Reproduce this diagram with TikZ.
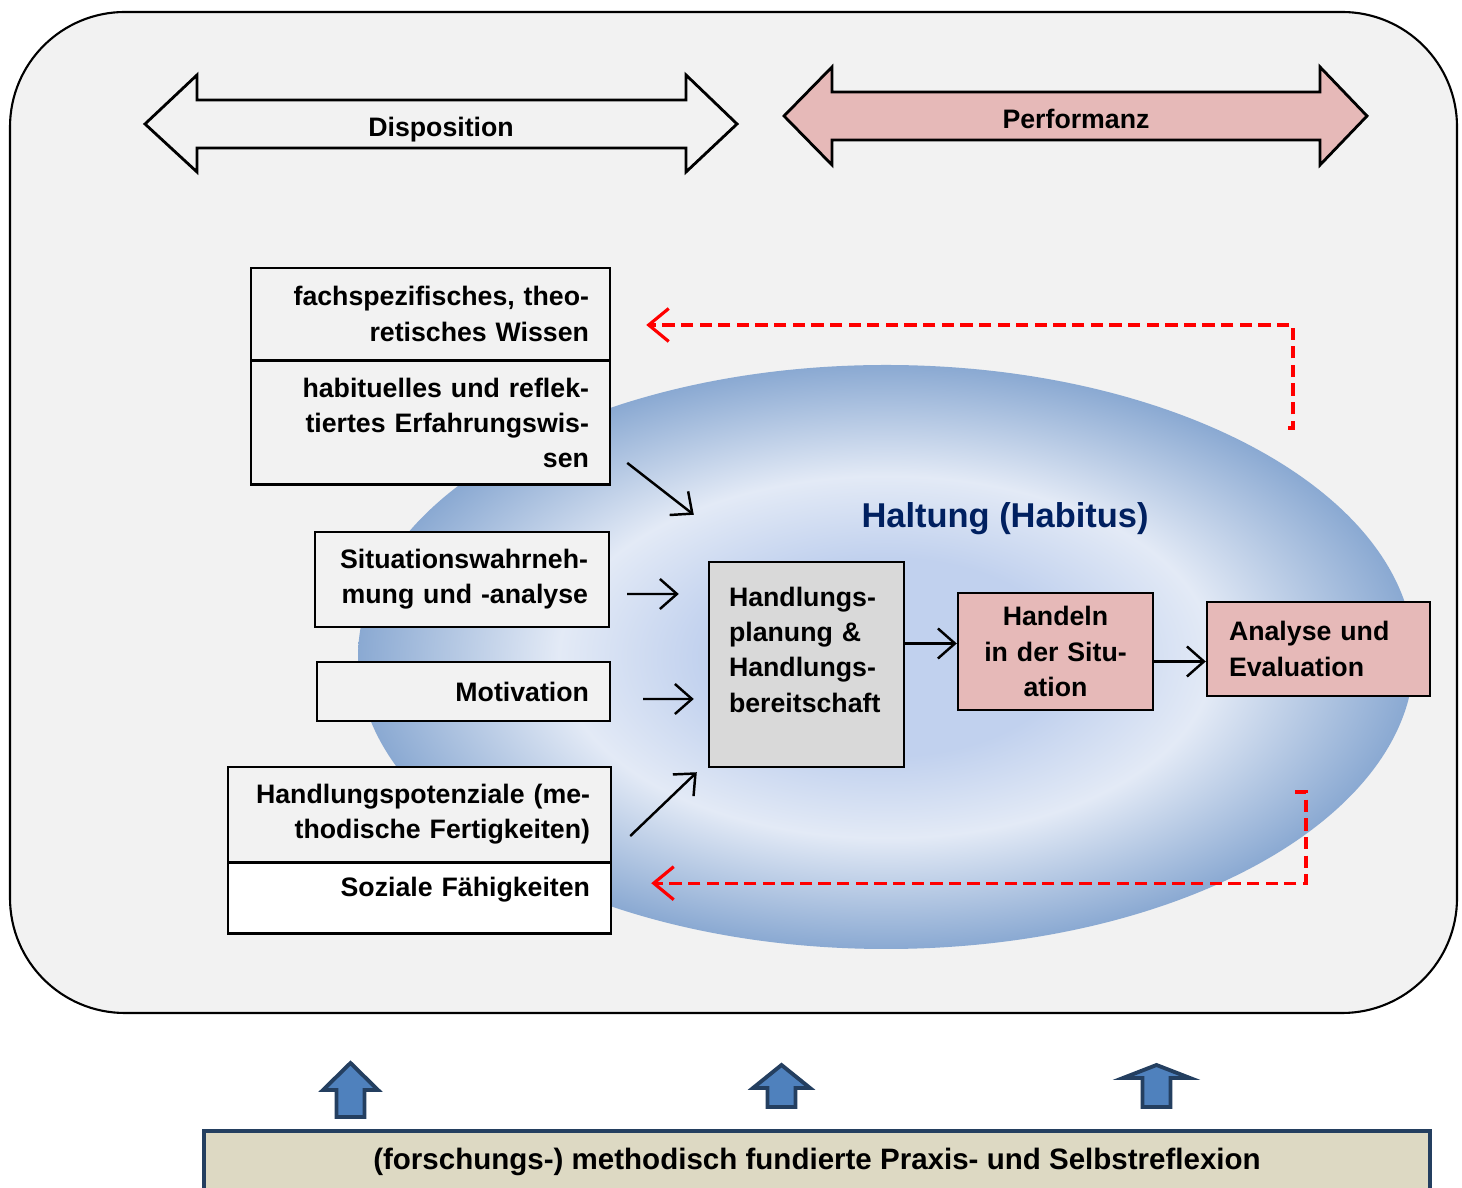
\documentclass[tikz,border=0pt]{standalone}
\usepackage{fontspec}
\setmainfont{Liberation Sans}
\usetikzlibrary{positioning}
\usetikzlibrary{arrows.meta}
\definecolor{framebg}{HTML}{F2F2F2}
\definecolor{pinkc}{HTML}{E6B9B8}
\definecolor{planc}{HTML}{D9D9D9}
\definecolor{bannerc}{HTML}{DDD9C3}
\definecolor{navyc}{HTML}{243F60}
\definecolor{upc}{HTML}{4F81BD}
\definecolor{haltungc}{HTML}{002060}
\definecolor{habcore}{HTML}{C1D1EE}
\definecolor{hablight}{HTML}{E3EAF6}
\definecolor{habedge}{HTML}{8AA9D2}
\newcommand{\boxfont}{\fontsize{7.6}{10}\selectfont\bfseries}
\pgfdeclareradialshading{habitusshade}{\pgfpoint{0bp}{0bp}}{color(0bp)=(habcore); color(8.5bp)=(habcore); color(15.5bp)=(hablight); color(25bp)=(habedge); color(50bp)=(habedge)}
\tikzset{
  dispbox/.style={draw, line width=0.7pt, fill=framebg, align=right, inner xsep=0.21cm, font=\boxfont},
  perfbox/.style={draw, line width=0.7pt, fill=pinkc, inner xsep=0.2cm, font=\boxfont},
  flow/.style={line width=0.7pt, -{Straight Barb[length=1.7mm,width=3mm]}},
  feedback/.style={red, line width=0.9pt, dash pattern=on 3.5pt off 1.8pt, -{Straight Barb[length=2mm,width=3.3mm]}},
  dblarrow/.style={draw, line width=0.8pt},
  uparrow/.style={draw=navyc, fill=upc, line width=1.1pt, line join=miter}
}

\begin{document}
\begin{tikzpicture}
\useasboundingbox (0,0) rectangle (14.62,11.87);

% outer frame
\draw[line width=0.6pt, fill=framebg, rounded corners=1.15cm] (0.10,1.74) rectangle (14.57,11.75);

% disposition / performanz
\draw[dblarrow, fill=framebg] (1.45,10.63) -- (1.97,11.12) -- (1.97,10.87) -- (6.86,10.87) -- (6.86,11.12) -- (7.37,10.63)
  -- (6.86,10.15) -- (6.86,10.39) -- (1.97,10.39) -- (1.97,10.15) -- cycle;
\node[font=\boxfont] (dispo) at (4.41,10.57) {Disposition};
\draw[dblarrow, fill=pinkc] (7.84,10.71) -- (8.32,11.20) -- (8.32,10.95) -- (13.20,10.95) -- (13.20,11.20) -- (13.67,10.71)
  -- (13.20,10.22) -- (13.20,10.47) -- (8.32,10.47) -- (8.32,10.22) -- cycle;
\node[font=\boxfont] (perf) at (10.76,10.68) {Performanz};

% habitus
\shade[shading=habitusshade] (8.86,5.30) ellipse (5.28 and 2.92);
\node[font=\fontsize{9.8}{12}\selectfont\bfseries, text=haltungc] (haltung) at (10.05,6.68) {Haltung (Habitus)};

% disposition boxes
\node[dispbox, minimum width=3.59cm, text width=3.17cm, minimum height=0.92cm] (fach) at (4.305,8.73) {fachspezifisches, theo-\\retisches Wissen};
\node[dispbox, minimum width=3.59cm, text width=3.17cm, minimum height=1.24cm, below=-0.5pt of fach] (erfahrung) {habituelles und reflek-\\tiertes Erfahrungswis-\\sen};
\node[dispbox, minimum width=2.94cm, text width=2.52cm, minimum height=0.95cm] (situation) at (4.62,6.075) {Situationswahrneh-\\mung und -analyse};
\node[dispbox, minimum width=2.93cm, text width=2.51cm, minimum height=0.59cm] (motivation) at (4.635,4.955) {Motivation};
\node[dispbox, minimum width=3.83cm, text width=3.41cm, minimum height=0.95cm] (potenzial) at (4.195,3.725) {Handlungspotenziale (me-\\thodische Fertigkeiten)};
\node[dispbox, fill=white, minimum width=3.83cm, text width=3.41cm, minimum height=0.71cm, text depth=0.23cm, below=-0.5pt of potenzial] (sozial) {Soziale F\"ahigkeiten};

% performance chain
\node[draw, line width=0.7pt, fill=planc, align=left, inner xsep=0.2cm, font=\boxfont, minimum width=1.95cm, text width=1.55cm, minimum height=2.05cm, text depth=1.35cm] (plan) at (8.065,5.225)
  {Handlungs-\\planung \&\\Handlungs-\\bereitschaft};
\node[perfbox, align=center, minimum width=1.95cm, text width=1.55cm, minimum height=1.17cm] (handeln) at (10.555,5.355) {Handeln\\in der Situ-\\ation};
\node[perfbox, align=left, inner xsep=0.22cm, minimum width=2.23cm, text width=1.79cm, minimum height=0.94cm] (analyse) at (13.185,5.38) {Analyse und\\Evaluation};

\draw[flow] ([shift={(0.16,0.23)}]erfahrung.south east) -- ([shift={(-0.14,0.46)}]plan.north west);
\draw[flow] ([shift={(0.17,-0.145)}]situation.east) -- ([shift={(-0.29,0.705)}]plan.west);
\draw[flow] ([shift={(0.32,-0.075)}]motivation.east) -- ([shift={(-0.14,-0.345)}]plan.west);
\draw[flow] ([shift={(0.18,-0.215)}]potenzial.east) -- ([shift={(-0.11,-0.04)}]plan.south west);
\draw[flow] ([yshift=0.21cm]plan.east) -- ([yshift=0.21cm]plan.east -| handeln.west);
\draw[flow] ([yshift=-0.1cm]handeln.east) -- ([yshift=-0.1cm]handeln.east -| analyse.west);

% reflection loops
\coordinate (evaltop) at (12.88,7.59);
\coordinate (evalbot) at (12.95,3.95);
\draw[feedback] (evaltop) -- ++(0.05,0) |- ([shift={(0.35,-0.11)}]fach.east);
\draw[feedback] (evalbot) -- ++(0.11,0) |- ([shift={(0.39,0.15)}]sozial.east);

% praxis reflection
\foreach \cx/\hw/\tip/\base/\bot in {3.505/0.275/1.24/0.97/0.70, 7.815/0.285/1.22/0.99/0.80, 11.565/0.335/1.22/1.09/0.80}
  \draw[uparrow] (\cx,\tip) -- (\cx+\hw,\base) -- (\cx+0.14,\base) -- (\cx+0.14,\bot) -- (\cx-0.14,\bot) -- (\cx-0.14,\base) -- (\cx-\hw,\base) -- cycle;
\node[draw=navyc, line width=1.2pt, fill=bannerc, font=\fontsize{8.4}{10}\selectfont\bfseries, minimum width=12.26cm, minimum height=0.62cm] (praxis) at (8.17,0.25)
  {(forschungs-) methodisch fundierte Praxis- und Selbstreflexion};
\end{tikzpicture}
\end{document}
